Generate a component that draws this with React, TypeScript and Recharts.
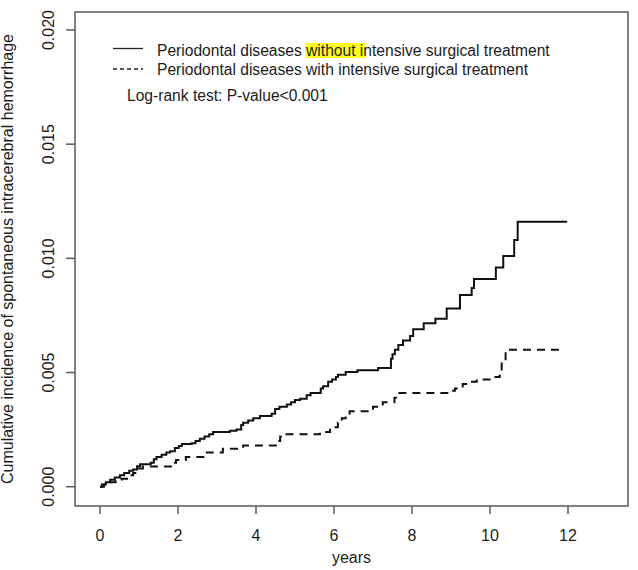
import React from "react";
import { LineChart, Line, XAxis, YAxis, ReferenceArea } from "recharts";

// Solid: periodontal diseases WITHOUT intensive surgical treatment (step points)
const solidYears = [
  0.0, 0.05, 0.15, 0.26, 0.38, 0.51, 0.62, 0.75, 0.85, 0.95, 1.03, 1.3, 1.38, 1.45, 1.58, 1.7,
  1.8, 1.92, 2.02, 2.1, 2.35, 2.45, 2.56, 2.68, 2.8, 2.9, 3.33, 3.5, 3.62, 3.67, 3.8, 3.93, 4.1,
  4.4, 4.49, 4.6, 4.79, 4.9, 5.0, 5.13, 5.3, 5.4, 5.66, 5.72, 5.85, 5.95, 6.05, 6.1, 6.3, 6.6,
  7.13, 7.46, 7.5, 7.56, 7.65, 7.77, 7.95, 8.03, 8.3, 8.6, 8.89, 9.23, 9.53, 9.59, 10.15, 10.34,
  10.62, 10.71, 11.98,
];
const solidValues = [
  0, 0.0001, 0.0002, 0.0003, 0.0004, 0.0005, 0.0006, 0.0007, 0.00075, 0.0009, 0.00098, 0.00105,
  0.0012, 0.0013, 0.0014, 0.0015, 0.00155, 0.0017, 0.00178, 0.00187, 0.0019, 0.002, 0.0021,
  0.0022, 0.0023, 0.0024, 0.00245, 0.0025, 0.0027, 0.0028, 0.0029, 0.003, 0.0031, 0.0032, 0.0034,
  0.0035, 0.0036, 0.0037, 0.0038, 0.00385, 0.004, 0.0041, 0.0043, 0.0044, 0.0046, 0.0047, 0.0048,
  0.0049, 0.00502, 0.0051, 0.0052, 0.0056, 0.0058, 0.006, 0.0062, 0.0064, 0.0066, 0.0069,
  0.00716, 0.00735, 0.0078, 0.0084, 0.0087, 0.0091, 0.0096, 0.0101, 0.0108, 0.0116, 0.0116,
];

// Dashed: periodontal diseases WITH intensive surgical treatment (step points)
const dashedYears = [
  0.0, 0.1, 0.25, 0.4, 0.55, 0.77, 0.85, 0.95, 1.1, 1.88, 1.95, 2.2, 2.74, 3.15, 3.67, 4.55, 4.62,
  4.75, 5.64, 5.9, 6.1, 6.2, 6.3, 6.4, 7.0, 7.25, 7.55, 7.64, 9.0, 9.1, 9.3, 9.5, 9.66, 10.05,
  10.25, 10.3, 10.4, 11.88,
];
const dashedValues = [
  0, 0.0001, 0.0002, 0.0003, 0.00035, 0.0005, 0.0006, 0.0008, 0.00088, 0.00105, 0.00117, 0.0013,
  0.0015, 0.00166, 0.0018, 0.002, 0.0022, 0.0023, 0.0024, 0.0026, 0.0028, 0.003, 0.0032, 0.0033,
  0.0035, 0.0037, 0.0039, 0.0041, 0.0042, 0.0043, 0.0045, 0.0046, 0.0047, 0.0048, 0.005, 0.0055,
  0.006, 0.006,
];

const xTicks = [0, 2, 4, 6, 8, 10, 12];
const yTicks = [0, 0.005, 0.01, 0.015, 0.02];
const yTickLabels = ["0.000", "0.005", "0.010", "0.015", "0.020"];
const xLabel = "years";
const yLabel = "Cumulative incidence of spontaneous intracerebral hemorrhage";
const legendPre = "Periodontal diseases ";
const legendHighlight = "without ";
const legendPost = "intensive surgical treatment";
const legendSecond = "Periodontal diseases with intensive surgical treatment";
const testLabel = "Log-rank test: P-value<0.001";

const solidData = solidYears.map((t, i) => ({ t, v: solidValues[i] }));
const dashedData = dashedYears.map((t, i) => ({ t, v: dashedValues[i] }));

const X_DOMAIN: [number, number] = [-25 / 39, 528 / 39];
const Y_DOMAIN: [number, number] = [-0.000845, 0.020788];

const FONT = "'Liberation Sans', Arial, sans-serif";
const TEXT = "#1c1c1c";
const FRAME = "#5a5a5a";

const XTick = (props: any) => {
  const { x, payload } = props;
  return (
    <text x={x} y={541} textAnchor="middle" fontFamily={FONT} fontSize={16} fill={TEXT}>
      {payload.value}
    </text>
  );
};

const YTick = (props: any) => {
  const { y, payload } = props;
  const idx = yTicks.indexOf(payload.value);
  const label = idx >= 0 ? yTickLabels[idx] : String(payload.value);
  return (
    <text
      x={54}
      y={y}
      transform={`rotate(-90, 54, ${y})`}
      textAnchor="middle"
      fontFamily={FONT}
      fontSize={16}
      fill={TEXT}
    >
      {label}
    </text>
  );
};

const Annotations = () => (
  <g fontFamily={FONT} fontSize={15.6} fill={TEXT}>
    <rect x={305} y={43} width={60} height={15} fill="#ffff1a" />
    <line x1={113} x2={143} y1={48.5} y2={48.5} stroke="#222" strokeWidth={1.3} />
    <line x1={113} x2={143} y1={69} y2={69} stroke="#222" strokeWidth={1.3} strokeDasharray="4 3" />
    <text x={157} y={55.5}>
      {legendPre}
      <tspan>{legendHighlight}</tspan>
      {legendPost}
    </text>
    <text x={157} y={75}>{legendSecond}</text>
    <text x={127} y={101}>{testLabel}</text>
    <text x={351.5} y={563} textAnchor="middle" fontSize={16}>{xLabel}</text>
    <text x={13} y={259} transform="rotate(-90, 13, 259)" textAnchor="middle" fontSize={16}>
      {yLabel}
    </text>
  </g>
);

export default function App() {
  return (
    <div style={{ position: "absolute", left: 0, top: 0, background: "#fff" }}>
      <LineChart width={638} height={570} margin={{ top: 12, right: 10, bottom: 0, left: 0 }}>
        <XAxis
          dataKey="t"
          type="number"
          domain={X_DOMAIN}
          ticks={xTicks}
          allowDataOverflow
          height={64}
          axisLine={false}
          tickSize={8}
          tickLine={{ stroke: FRAME, strokeWidth: 1.5 }}
          tick={<XTick />}
          interval={0}
        />
        <YAxis
          type="number"
          domain={Y_DOMAIN}
          ticks={yTicks}
          allowDataOverflow
          width={75}
          axisLine={false}
          tickSize={9}
          tickLine={{ stroke: FRAME, strokeWidth: 1.5 }}
          tick={<YTick />}
          interval={0}
        />
        <ReferenceArea
          x1={X_DOMAIN[0]}
          x2={X_DOMAIN[1]}
          y1={Y_DOMAIN[0]}
          y2={Y_DOMAIN[1]}
          fill="none"
          fillOpacity={0}
          stroke={FRAME}
          strokeWidth={1.5}
          ifOverflow="visible"
        />
        <Line
          data={dashedData}
          dataKey="v"
          type="stepAfter"
          dot={false}
          activeDot={false}
          stroke="#111"
          strokeWidth={2}
          strokeDasharray="8 6"
          isAnimationActive={false}
        />
        <Line
          data={solidData}
          dataKey="v"
          type="stepAfter"
          dot={false}
          activeDot={false}
          stroke="#111"
          strokeWidth={2}
          isAnimationActive={false}
        />
        <Annotations />
      </LineChart>
    </div>
  );
}
